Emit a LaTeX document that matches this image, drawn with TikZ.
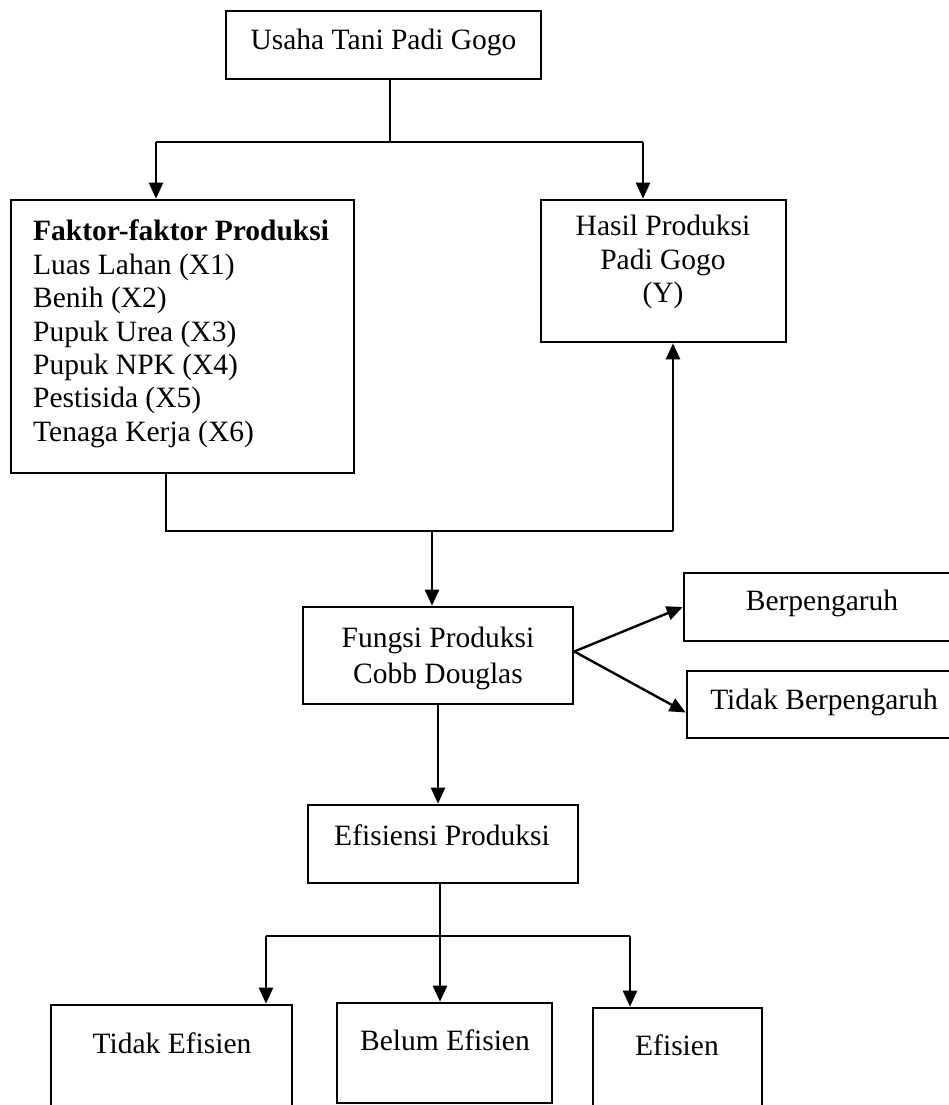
\documentclass[tikz,border=0pt]{standalone}
\usepackage{fontspec}
\setmainfont{Liberation Serif}
\usetikzlibrary{arrows.meta}
\newcommand{\txtsize}{\fontsize{14.75}{16.7}\selectfont}

\begin{document}
\begin{tikzpicture}[x=0.5pt,y=-0.5pt,
  box/.style={draw,line width=1.3pt,inner sep=0pt},
  txt/.style={inner sep=0pt,align=center,font=\txtsize},
  arr/.style={-{Triangle[length=8pt,width=7pt]}},
  line width=1.2pt]
  \useasboundingbox (0,0) rectangle (949,1105);
  \begin{scope}
   \node[box,minimum width=157.5pt,minimum height=34pt]  (usaha)   at (383.5,45)    {};
   \node[box,minimum width=171.5pt,minimum height=136.5pt] (faktor) at (182.5,336.5) {};
   \node[box,minimum width=122.5pt,minimum height=71pt]  (hasil)   at (663.5,271)   {};
   \node[box,minimum width=135pt,minimum height=48.5pt]  (fungsi)  at (438,655.5)   {};
   \node[box,minimum width=135.5pt,minimum height=34pt]  (berp)    at (819.5,607)   {};
   \node[box,minimum width=134pt,minimum height=33.5pt]  (tberp)   at (821,704.5)   {};
   \node[box,minimum width=135pt,minimum height=39pt]    (efis)    at (443,844)     {};
   \node[box,minimum width=120.5pt,minimum height=60pt]  (tefis)   at (171.5,1065)  {};
   \node[box,minimum width=107.5pt,minimum height=50pt]  (belum)   at (444.5,1053)  {};
   \node[box,minimum width=84.5pt,minimum height=58.5pt] (efisien) at (677.5,1066.5) {};

   \node[txt] (usaha-t) at (383.5,42) {Usaha Tani Padi Gogo};
   \node[txt,align=left,anchor=north west] (faktor-t) at (32,219)
     {\textbf{Faktor-faktor Produksi}\\Luas Lahan (X1)\\Benih (X2)\\Pupuk Urea (X3)\\Pupuk NPK (X4)\\Pestisida (X5)\\Tenaga Kerja (X6)};
   \node[txt] (hasil-t)   at (663,262)  {Hasil Produksi\\Padi Gogo\\(Y)};
   \node[txt,font=\fontsize{14.75}{18}\selectfont] (fungsi-t) at (438,658) {Fungsi Produksi\\Cobb Douglas};
   \node[txt] (berp-t)    at (822,603)  {Berpengaruh};
   \node[txt] (tberp-t)   at (824,702)  {Tidak Berpengaruh};
   \node[txt] (efis-t)    at (442,835)  {Efisiensi Produksi};
   \node[txt] (tefis-t)   at (172,1043) {Tidak Efisien};
   \node[txt] (belum-t)   at (445,1040) {Belum Efisien};
   \node[txt] (efisien-t) at (677,1045) {Efisien};

   \coordinate (j0) at (390,142);
   \coordinate (j1) at (156,142);
   \coordinate (j2) at (643,142);
   \coordinate (j3) at (166,531);
   \coordinate (j4) at (673,531);
   \coordinate (j5) at (432,531);
   \coordinate (j6) at (440,936);
   \coordinate (j7) at (266,936);
   \coordinate (j8) at (630,936);

   \draw (j0 |- usaha.south) -- (j0);
   \draw (j1) -- (j2);
   \draw[arr] (j1) -- (j1 |- faktor.north);
   \draw[arr] (j2) -- (j2 |- hasil.north);
   \draw (j3 |- faktor.south) -- (j3) -- (j4);
   \draw[arr] (j4) -- (j4 |- hasil.south);
   \draw[arr] (j5) -- (j5 |- fungsi.north);
   \draw[arr] ([yshift=2pt]fungsi.east) -- (berp.west);
   \draw[arr] ([yshift=2pt]fungsi.east) -- ([yshift=-4pt]tberp.west);
   \draw[arr] (fungsi.south) -- (fungsi.south |- efis.north);
   \draw (j6 |- efis.south) -- (j6);
   \draw (j7) -- (j8);
   \draw[arr] (j7) -- (j7 |- tefis.north);
   \draw[arr] (j6) -- (j6 |- belum.north);
   \draw[arr] (j8) -- (j8 |- efisien.north);
  \end{scope}
\end{tikzpicture}
\end{document}
